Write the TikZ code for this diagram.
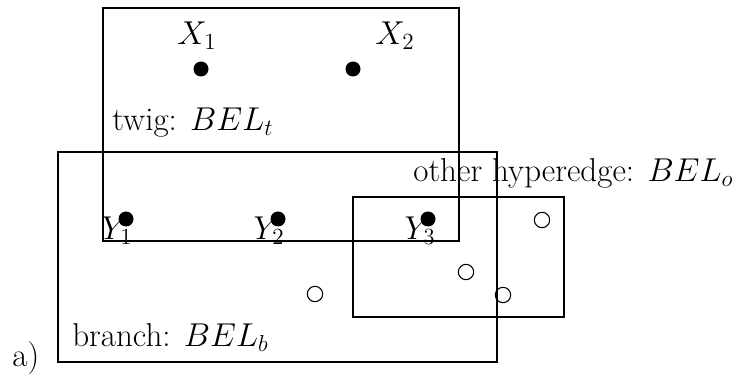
\RequirePackage{fix-cm}
\documentclass[tikz,border=0pt]{standalone}
\begin{document}
\begin{tikzpicture}[x=0.56pt,y=-0.56pt,
  edge/.style={draw=black,line width=1.5pt},
  thinedge/.style={draw=black,line width=1.15pt},
  full/.style={circle,fill=black,inner sep=0pt,minimum size=8.4pt},
  empty/.style={circle,draw=black,line width=0.6pt,inner sep=0pt,minimum size=8.6pt},
  lab/.style={inner sep=0pt,font=\fontsize{18.5}{22}\selectfont}]
\useasboundingbox (0,0) rectangle (741,381);
% hyperedges
\draw[edge] (103,8) rectangle (459,241);
\draw[edge] (58,152) rectangle (497,362);
\draw[thinedge] (353,197) rectangle (564,317);
% vertices
\node[full] (x1) at (201,69) {};
\node[full] (x2) at (353,69) {};
\node[full] (y1) at (126,219) {};
\node[full] (y2) at (278,219) {};
\node[full] (y3) at (428,219) {};
\node[empty] (o1) at (315,294) {};
\node[empty] (o2) at (466,272) {};
\node[empty] (o3) at (503,295) {};
\node[empty] (o4) at (542,220) {};
% labels
\node[lab,anchor=base] (lx1) at (197,45) {$X_1$};
\node[lab,anchor=base] (lx2) at (395,45) {$X_2$};
\node[lab,anchor=base] (ly1) at (117,240) {$Y_1$};
\node[lab,anchor=base] (ly2) at (269,240) {$Y_2$};
\node[lab,anchor=base] (ly3) at (420,240) {$Y_3$};
\node[lab,anchor=base west] (tw) at (112,131) {twig: $BEL_t$};
\node[lab,anchor=base west] (oh) at (413,182) {other hyperedge: $BEL_o$};
\node[lab,anchor=base west] (br) at (72,347) {branch: $BEL_b$};
\node[lab,anchor=base west] (a) at (12,367) {a)};
\end{tikzpicture}
\end{document}
